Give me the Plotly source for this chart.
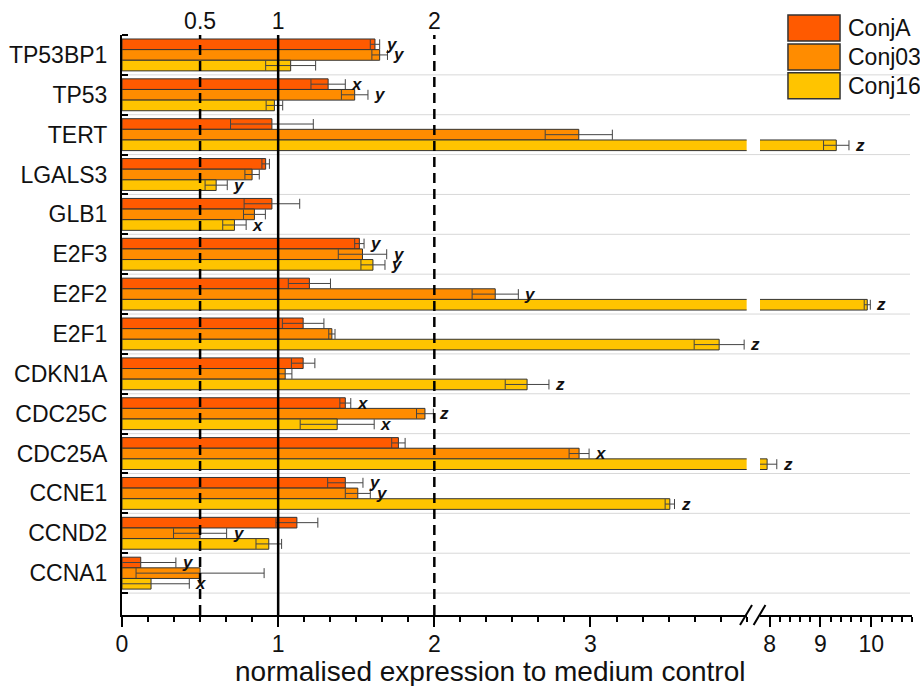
import plotly.graph_objects as go

genes = ["TP53BP1", "TP53", "TERT", "LGALS3", "GLB1", "E2F3", "E2F2", "E2F1",
         "CDKN1A", "CDC25C", "CDC25A", "CCNE1", "CCND2", "CCNA1"]
series_names = ["ConjA", "Conj03", "Conj16"]

conjA = [1.62, 1.32, 0.96, 0.92, 0.96, 1.52, 1.20, 1.16, 1.16, 1.43, 1.77, 1.43, 1.12, 0.12]
conjA_err = [0.03, 0.11, 0.265, 0.024, 0.178, 0.03, 0.135, 0.133, 0.075, 0.035, 0.043, 0.113, 0.134, 0.225]
conj03 = [1.65, 1.49, 2.925, 0.833, 0.848, 1.54, 2.39, 1.344, 1.045, 1.94, 2.927, 1.51, 0.50, 0.50]
conj03_err = [0.05, 0.085, 0.215, 0.046, 0.07, 0.155, 0.148, 0.02, 0.043, 0.054, 0.064, 0.08, 0.17, 0.41]
conj16 = [1.08, 0.976, 9.31, 0.603, 0.72, 1.607, 9.92, 3.824, 2.594, 1.378, 7.95, 3.508, 0.94, 0.186]
conj16_err = [0.16, 0.053, 0.25, 0.071, 0.075, 0.077, 0.06, 0.16, 0.14, 0.237, 0.19, 0.03, 0.082, 0.245]

conjA_sig = ["y", "x", "", "", "", "y", "", "", "", "x", "", "y", "", "y"]
conj03_sig = ["y", "y", "", "", "", "y", "y", "", "", "z", "x", "y", "y", ""]
conj16_sig = ["", "", "z", "y", "x", "y", "z", "z", "z", "x", "z", "z", "", "x"]

left_ticks = [0, 1, 2, 3]
right_ticks = [8, 9, 10]
top_ticks = [0.5, 1, 2]
top_ticktext = ["0.5", "1", "2"]
ref_lines = [0.5, 1, 2]
ref_dash = ["10px,6px", "solid", "10px,6px"]

colors = ["#FF5A00", "#FF8C00", "#FFC400"]
FONT = "Arial, Liberation Sans, sans-serif"

values = [conjA, conj03, conj16]
errors = [conjA_err, conj03_err, conj16_err]
sigs = [conjA_sig, conj03_sig, conj16_sig]

ypos = [i + 0.5 for i in range(len(genes))]
LEFT_MAX = 4.0
RIGHT_MIN, RIGHT_MAX = 7.81, 10.8

fig = go.Figure()
for k, name in enumerate(series_names):
    for xa in ["x", "x2"]:
        fig.add_trace(go.Bar(
            y=ypos, x=values[k], orientation="h", name=name,
            xaxis=xa, yaxis="y", showlegend=False,
            marker=dict(color=colors[k], line=dict(color="#333333", width=1)),
            error_x=dict(type="data", array=errors[k], color="#444444",
                         thickness=1, width=5),
        ))

shapes = []
annotations = []

# horizontal group separators
for i in range(1, len(genes) + 1):
    shapes.append(dict(type="line", xref="paper", yref="y", x0=0, x1=0.9975,
                       y0=i, y1=i, line=dict(color="#d8d8d8", width=1), layer="below"))

# reference lines
for v, d in zip(ref_lines, ref_dash):
    shapes.append(dict(type="line", xref="x", yref="paper", x0=v, x1=v, y0=0, y1=1,
                       line=dict(color="black", width=2.5, dash=d), layer="above"))

# axis break marks
for x0, x1 in [(0.7823, 0.7975), (0.7995, 0.8145)]:
    shapes.append(dict(type="line", xref="paper", yref="paper", x0=x0, x1=x1,
                       y0=-0.0172, y1=0.0172, line=dict(color="black", width=2)))

# significance letters
group_w = 0.8 / 3
for k in range(3):
    for i, g in enumerate(genes):
        s = sigs[k][i]
        if not s:
            continue
        xe = values[k][i] + errors[k][i]
        xr = "x2" if values[k][i] > LEFT_MAX else "x"
        annotations.append(dict(
            x=xe, y=ypos[i] + (k - 1) * group_w, xref=xr, yref="y",
            text=s, showarrow=False, xanchor="left", yanchor="middle", xshift=4,
            font=dict(family=FONT, size=17, color="#111", style="italic", weight="bold")))

# legend (manual, large swatches)
leg_top = [1.0344, 0.9845, 0.9347]
leg_h = 0.0447
for k, name in enumerate(series_names):
    shapes.append(dict(type="rect", xref="paper", yref="paper", x0=0.843, x1=0.9089,
                       y0=leg_top[k] - leg_h, y1=leg_top[k],
                       fillcolor=colors[k], line=dict(color="#333333", width=1.5),
                       layer="above"))
    annotations.append(dict(x=0.9165, y=leg_top[k] - leg_h / 2, xref="paper", yref="paper",
                            text=name, showarrow=False, xanchor="left", yanchor="middle",
                            font=dict(family=FONT, size=23, color="#111")))
shapes.insert(0, dict(type="rect", xref="paper", yref="paper", x0=0.835, x1=1.01,
                      y0=0.885, y1=1.04, fillcolor="white", line=dict(width=0),
                      layer="below"))

annotations.append(dict(x=0.466, y=-0.097, xref="paper", yref="paper",
                        text="normalised expression to medium control", showarrow=False,
                        xanchor="center", yanchor="middle",
                        font=dict(family=FONT, size=28, color="#111")))

fig.update_layout(
    width=920, height=686,
    margin=dict(l=122, r=8, t=33, b=71),
    paper_bgcolor="white", plot_bgcolor="white",
    barmode="group", bargap=0.2, bargroupgap=0,
    font=dict(family=FONT, color="#111", size=23),
    shapes=shapes, annotations=annotations,
    xaxis=dict(domain=[0, 0.7907], range=[0, LEFT_MAX], anchor="y",
               tickmode="array", tickvals=left_ticks,
               ticks="outside", ticklen=10, tickwidth=2, tickcolor="black",
               showline=True, linewidth=2, linecolor="black",
               showgrid=False, zeroline=False, ticklabelstandoff=-3,
               minor=dict(tickmode="linear", tick0=0, dtick=1 / 6, ticks="outside",
                          ticklen=5, tickwidth=1.5, tickcolor="black", showgrid=False),
               tickfont=dict(size=23)),
    xaxis2=dict(domain=[0.8076, 1], range=[RIGHT_MIN, RIGHT_MAX], anchor="y",
                tickmode="array", tickvals=right_ticks,
                ticks="outside", ticklen=10, tickwidth=2, tickcolor="black",
                showline=True, linewidth=2, linecolor="black",
                showgrid=False, zeroline=False, ticklabelstandoff=-3,
                minor=dict(tickmode="linear", tick0=0, dtick=0.2, ticks="outside",
                           ticklen=5, tickwidth=1.5, tickcolor="black", showgrid=False),
                tickfont=dict(size=23)),
    xaxis3=dict(overlaying="x", side="top", range=[0, LEFT_MAX], anchor="y",
                tickmode="array", tickvals=top_ticks, ticktext=top_ticktext,
                ticks="", showline=False, showgrid=False, zeroline=False,
                tickfont=dict(size=23)),
    yaxis=dict(range=[14.55, 0], anchor="x",
               tickmode="array", tickvals=ypos, ticktext=genes, ticks="",
               showline=True, linewidth=2, linecolor="black",
               showgrid=False, zeroline=False, ticklabelstandoff=8,
               minor=dict(tickmode="linear", tick0=0, dtick=1, ticks="inside",
                          ticklen=6, tickwidth=2, tickcolor="black", showgrid=False),
               tickfont=dict(size=23)),
)

# invisible trace to activate the top axis
fig.add_trace(go.Scatter(x=[0], y=[0], xaxis="x3", yaxis="y", mode="markers",
                         marker=dict(opacity=0), showlegend=False, hoverinfo="skip"))

fig.write_html("out.html")
